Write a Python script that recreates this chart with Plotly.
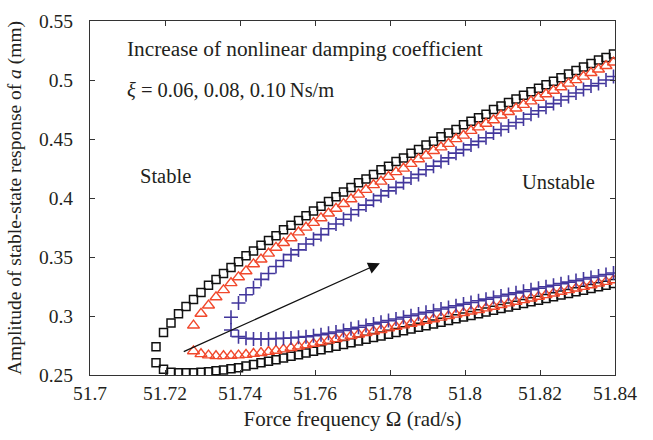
import plotly.graph_objects as go

# Force frequency grid (rad/s) shared by all solution branches
freq = [51.7176, 51.7196, 51.7216, 51.7236, 51.7256, 51.7276, 51.7296, 51.7316, 51.7336, 51.7356,
        51.7376, 51.7396, 51.7416, 51.7436, 51.7456, 51.7476, 51.7496, 51.7516, 51.7536, 51.7556,
        51.7576, 51.7596, 51.7616, 51.7636, 51.7656, 51.7676, 51.7696, 51.7716, 51.7736, 51.7756,
        51.7776, 51.7796, 51.7816, 51.7836, 51.7856, 51.7876, 51.7896, 51.7916, 51.7936, 51.7956,
        51.7976, 51.7996, 51.8016, 51.8036, 51.8056, 51.8076, 51.8096, 51.8116, 51.8136, 51.8156,
        51.8176, 51.8196, 51.8216, 51.8236, 51.8256, 51.8276, 51.8296, 51.8316, 51.8336, 51.8356,
        51.8376, 51.8396]

# xi = 0.06 Ns/m (squares)
a06_upper = [0.274, 0.286, 0.294, 0.302, 0.308, 0.314, 0.320, 0.326, 0.331, 0.336,
             0.341, 0.346, 0.351, 0.355, 0.360, 0.364, 0.368, 0.373, 0.377, 0.381,
             0.385, 0.389, 0.393, 0.397, 0.401, 0.405, 0.409, 0.413, 0.416, 0.420,
             0.424, 0.427, 0.431, 0.434, 0.438, 0.441, 0.445, 0.448, 0.452, 0.455,
             0.458, 0.462, 0.465, 0.468, 0.471, 0.475, 0.478, 0.481, 0.484, 0.487,
             0.490, 0.493, 0.496, 0.499, 0.502, 0.505, 0.508, 0.511, 0.514, 0.517,
             0.519, 0.522]
a06_lower = [0.2604, 0.2548, 0.2523, 0.2519, 0.2519, 0.2519, 0.2523, 0.2528, 0.2536, 0.2542,
             0.2553, 0.2562, 0.2576, 0.2590, 0.2603, 0.2616, 0.2630, 0.2644, 0.2658, 0.2672,
             0.2686, 0.2701, 0.2715, 0.2730, 0.2744, 0.2759, 0.2773, 0.2788, 0.2802, 0.2817,
             0.2831, 0.2846, 0.2860, 0.2875, 0.2889, 0.2904, 0.2918, 0.2933, 0.2947, 0.2962,
             0.2976, 0.2991, 0.3005, 0.3020, 0.3034, 0.3049, 0.3063, 0.3077, 0.3092, 0.3106,
             0.3120, 0.3134, 0.3149, 0.3163, 0.3177, 0.3191, 0.3205, 0.3219, 0.3233, 0.3247,
             0.3261, 0.3275]

# xi = 0.08 Ns/m (triangles), starting at freq[5]
a08_upper = [0.292, 0.302, 0.309, 0.316, 0.322, 0.328, 0.333, 0.338,
             0.344, 0.348, 0.353, 0.358, 0.362, 0.366, 0.371, 0.375, 0.379, 0.383,
             0.387, 0.391, 0.395, 0.399, 0.403, 0.407, 0.411, 0.414, 0.418, 0.422,
             0.425, 0.429, 0.433, 0.436, 0.440, 0.443, 0.446, 0.450, 0.453, 0.457,
             0.460, 0.463, 0.466, 0.470, 0.473, 0.476, 0.479, 0.482, 0.485, 0.488,
             0.491, 0.494, 0.497, 0.500, 0.503, 0.506, 0.509, 0.512, 0.515]
a08_lower = [0.2703, 0.2678, 0.2667, 0.2661, 0.2661, 0.2664, 0.2667, 0.2672,
             0.2680, 0.2688, 0.2697, 0.2707, 0.2718, 0.2730, 0.2742, 0.2754, 0.2766, 0.2779,
             0.2792, 0.2805, 0.2818, 0.2831, 0.2844, 0.2857, 0.2870, 0.2883, 0.2896, 0.2909,
             0.2922, 0.2935, 0.2948, 0.2961, 0.2974, 0.2987, 0.3000, 0.3013, 0.3026, 0.3039,
             0.3052, 0.3066, 0.3080, 0.3094, 0.3108, 0.3122, 0.3136, 0.3150, 0.3164, 0.3178,
             0.3192, 0.3206, 0.3220, 0.3234, 0.3248, 0.3262, 0.3276, 0.3290, 0.3304]

# xi = 0.10 Ns/m (plus signs), starting at freq[10]
a10_upper = [0.299, 0.311, 0.318, 0.324, 0.331, 0.336, 0.342, 0.347, 0.352, 0.356, 0.361,
             0.365, 0.369, 0.374, 0.378, 0.382, 0.386, 0.390, 0.394, 0.398, 0.402,
             0.406, 0.409, 0.413, 0.417, 0.420, 0.424, 0.427, 0.431, 0.434, 0.438,
             0.441, 0.445, 0.448, 0.451, 0.455, 0.458, 0.461, 0.464, 0.467, 0.471,
             0.474, 0.477, 0.480, 0.483, 0.486, 0.489, 0.492, 0.495, 0.497, 0.500,
             0.503]
a10_lower = [0.2881, 0.2825, 0.2811, 0.2805, 0.2805, 0.2805, 0.2808, 0.2811, 0.2814, 0.2820,
             0.2825, 0.2833, 0.2842, 0.2853, 0.2865, 0.2878, 0.2891, 0.2905, 0.2919, 0.2933,
             0.2947, 0.2961, 0.2975, 0.2989, 0.3003, 0.3017, 0.3031, 0.3045, 0.3059, 0.3073,
             0.3087, 0.3101, 0.3115, 0.3129, 0.3143, 0.3157, 0.3170, 0.3183, 0.3196, 0.3209,
             0.3222, 0.3235, 0.3248, 0.3261, 0.3274, 0.3287, 0.3300, 0.3313, 0.3326, 0.3339,
             0.3352, 0.3365]

x_ticks = [51.7, 51.72, 51.74, 51.76, 51.78, 51.8, 51.82, 51.84]
x_ticktext = ["51.7", "51.72", "51.74", "51.76", "51.78", "51.8", "51.82", "51.84"]
y_ticks = [0.25, 0.3, 0.35, 0.4, 0.45, 0.5, 0.55]
y_ticktext = ["0.25", "0.3", "0.35", "0.4", "0.45", "0.5", "0.55"]

# Trend arrow: tail and head in data coordinates
arrow_tail = (51.7246, 0.2692)
arrow_head = (51.7773, 0.3447)

FONT = "Liberation Serif"
TXT = "#231f20"
BLACK = "#111111"
RED = "rgb(241,72,44)"
BLUE = "rgb(66,54,156)"

fig = go.Figure()

def add_branch(x, y, symbol, color, size, lw):
    fig.add_trace(go.Scatter(
        x=x, y=y, mode="markers", showlegend=False,
        marker=dict(symbol=symbol, size=size, color=color,
                    line=dict(color=color, width=lw)),
    ))

add_branch(freq, a06_upper, "square-open", BLACK, 8, 1.5)
add_branch(freq, a06_lower, "square-open", BLACK, 8, 1.5)
add_branch(freq[5:], a08_upper, "triangle-up-open", RED, 10.5, 1.4)
add_branch(freq[5:], a08_lower, "triangle-up-open", RED, 10.5, 1.4)
add_branch(freq[10:], a10_upper, "cross-thin", BLUE, 10, 1.6)
add_branch(freq[10:], a10_lower, "cross-thin", BLUE, 10, 1.6)

fig.add_annotation(
    x=arrow_head[0], y=arrow_head[1], ax=arrow_tail[0], ay=arrow_tail[1],
    xref="x", yref="y", axref="x", ayref="y", text="",
    showarrow=True, arrowhead=2, arrowsize=1.8, arrowwidth=1.3, arrowcolor=BLACK,
)

label_font = dict(family=FONT, size=21.3, color=TXT)
fig.add_annotation(x=0.066, y=0.921, xref="paper", yref="paper", xanchor="left", yanchor="middle",
                   text="Increase of nonlinear damping coefficient", showarrow=False, font=label_font)
fig.add_annotation(x=0.066, y=0.805, xref="paper", yref="paper", xanchor="left", yanchor="middle",
                   text="<i>ξ</i> = 0.06, 0.08, 0.10\u2009Ns/m", showarrow=False,
                   font=dict(family=FONT, size=20.5, color=TXT))
fig.add_annotation(x=0.091, y=0.562, xref="paper", yref="paper", xanchor="left", yanchor="middle",
                   text="Stable", showarrow=False, font=dict(family=FONT, size=20.5, color=TXT))
fig.add_annotation(x=0.819, y=0.545, xref="paper", yref="paper", xanchor="left", yanchor="middle",
                   text="Unstable", showarrow=False, font=dict(family=FONT, size=20.5, color=TXT))

axis_common = dict(
    showgrid=False, zeroline=False, showline=True, linecolor="#333333", linewidth=1.2,
    mirror="allticks", ticks="inside", ticklen=5, tickwidth=1, tickcolor="#333333",
    tickfont=dict(family=FONT, size=19.5, color=TXT),
)

fig.update_xaxes(range=[51.7, 51.84], tickvals=x_ticks, ticktext=x_ticktext,
                 title=dict(text="Force frequency Ω (rad/s)", font=dict(family=FONT, size=21, color=TXT),
                            standoff=8),
                 **axis_common)
fig.update_yaxes(range=[0.25, 0.55], tickvals=y_ticks, ticktext=y_ticktext, ticklabelstandoff=12,
                 title=dict(text="Amplitude of stable-state response of <i>a</i> (mm)",
                            font=dict(family=FONT, size=19.5, color=TXT), standoff=12),
                 **axis_common)

fig.update_layout(
    width=653, height=440,
    margin=dict(l=90, r=38, t=21, b=65, autoexpand=False),
    paper_bgcolor="white", plot_bgcolor="white",
)

fig.write_html("out.html")
